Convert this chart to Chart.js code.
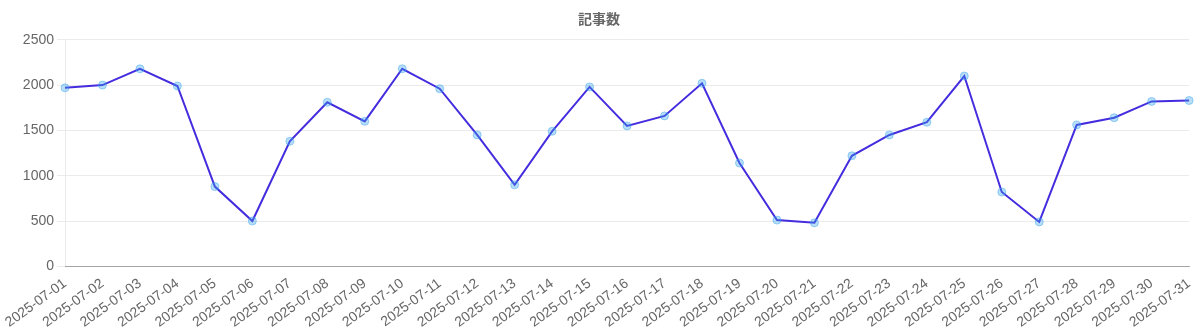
<!DOCTYPE html>
<html>
<head>
<meta charset="utf-8">
<script src="https://cdn.jsdelivr.net/npm/chart.js@4"></script>
<style>
  html, body { margin: 0; padding: 0; background: #fff; }
  #wrap { width: 1200px; height: 332px; }
</style>
</head>
<body>
<div id="wrap"><canvas id="chart"></canvas></div>
<script>
const labels = [
  "2025-07-01", "2025-07-02", "2025-07-03", "2025-07-04", "2025-07-05", "2025-07-06",
  "2025-07-07", "2025-07-08", "2025-07-09", "2025-07-10", "2025-07-11", "2025-07-12",
  "2025-07-13", "2025-07-14", "2025-07-15", "2025-07-16", "2025-07-17", "2025-07-18",
  "2025-07-19", "2025-07-20", "2025-07-21", "2025-07-22", "2025-07-23", "2025-07-24",
  "2025-07-25", "2025-07-26", "2025-07-27", "2025-07-28", "2025-07-29", "2025-07-30",
  "2025-07-31"
];
const articleCounts = [
  1970, 2000, 2180, 1990, 880, 500,
  1380, 1810, 1600, 2180, 1960, 1450,
  900, 1490, 1980, 1550, 1660, 2020,
  1140, 510, 480, 1220, 1450, 1590,
  2100, 820, 490, 1560, 1640, 1820,
  1830
];
const yTicks = [0, 500, 1000, 1500, 2000, 2500];

const fontFamily = "'Helvetica Neue', Helvetica, Arial, 'Noto Sans CJK JP', sans-serif";
Chart.defaults.font.family = fontFamily;
Chart.defaults.color = "#666";

new Chart(document.getElementById("chart"), {
  type: "line",
  data: {
    labels: labels,
    datasets: [{
      label: "記事数",
      data: articleCounts,
      borderColor: "rgb(68, 45, 222)",
      borderWidth: 2,
      backgroundColor: "rgba(54, 162, 235, 0.35)",
      pointBackgroundColor: "rgba(54, 162, 235, 0.35)",
      pointBorderColor: "rgba(54, 162, 235, 0.45)",
      pointBorderWidth: 1,
      pointRadius: 4,
      tension: 0,
      fill: false,
    }],
  },
  options: {
    responsive: true,
    maintainAspectRatio: false,
    animation: false,
    layout: { padding: { right: 2, top: 4 } },
    plugins: {
      legend: { display: false },
      title: {
        display: true,
        text: "記事数",
        color: "#666",
        font: { size: 14, weight: "bold" },
        padding: { top: 8, bottom: 11 },
      },
    },
    scales: {
      x: {
        grid: { display: false },
        border: { color: "rgba(0,0,0,0.3)" },
        ticks: {
          font: { size: 14 },
          autoSkip: false,
          padding: 1,
          maxRotation: 36,
          minRotation: 36,
        },
      },
      y: {
        min: 0,
        max: 2500,
        afterBuildTicks: function (axis) {
          axis.ticks = yTicks.map(function (v) { return { value: v }; });
        },
        afterFit: function (axis) {
          axis.width = 65;
        },
        grid: { color: "rgba(0,0,0,0.08)" },
        border: { color: "rgba(0,0,0,0.08)" },
        ticks: {
          font: { size: 14 },
          callback: function (value) { return String(value); },
        },
      },
    },
  },
});
</script>
</body>
</html>
